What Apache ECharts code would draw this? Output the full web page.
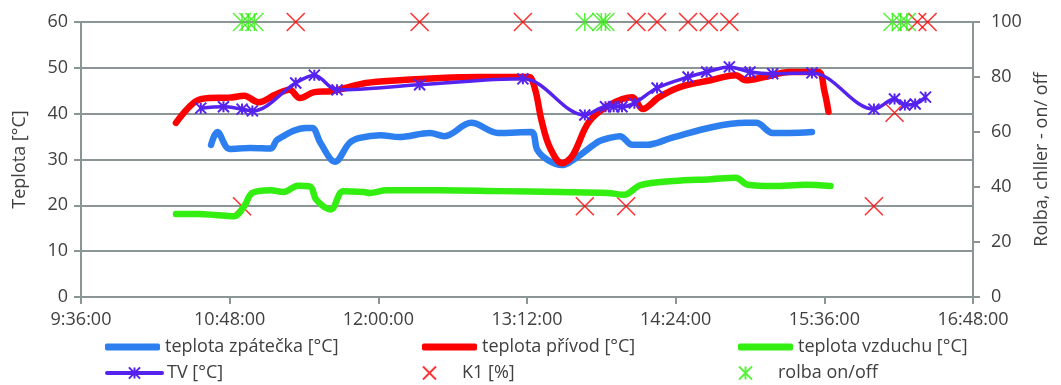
<!DOCTYPE html>
<html><head><meta charset="utf-8">
<script src="https://cdn.jsdelivr.net/npm/echarts@6/dist/echarts.min.js"></script>
<style>html,body{margin:0;padding:0;background:#fff}#c{width:1061px;height:385px}</style>
</head><body><div id="c"></div>
<script>
// x-axis ticks (time of day)
const xTickMin = '9:36', xTickMax = '16:48', xTickStepMin = 72;

const zpatTimes = ['10:39','10:42','10:48','10:58','11:08','11:11','11:25','11:28','11:32','11:39','11:46','11:51','12:01','12:10','12:25','12:32','12:45','12:58','13:14','13:17','13:22','13:29','13:33','13:39','13:47','13:52','13:57','14:03','14:10','14:22','14:42','14:58','15:03','15:11','15:19','15:30'];
const zpatValues = [33.2,36.0,32.3,32.5,32.4,34.3,36.9,36.9,33.6,29.5,33.6,34.7,35.3,34.9,35.8,35.1,38.0,35.8,36.0,32.1,29.9,28.8,29.5,31.4,34.0,34.7,35.1,33.2,33.2,34.7,37.1,38.0,38.0,35.8,35.8,36.0];

const privTimes = ['10:22','10:27','10:32','10:38','10:48','10:55','11:02','11:10','11:17','11:22','11:29','11:37','11:44','11:54','12:10','12:30','12:49','13:09','13:13','13:16','13:19','13:23','13:29','13:34','13:42','13:52','14:03','14:08','14:16','14:26','14:41','14:53','14:58','15:07','15:19','15:33','15:36','15:38'];
const privValues = [38.0,40.8,42.8,43.4,43.5,43.9,42.5,44.1,45.2,43.4,44.7,44.9,45.6,46.7,47.3,47.8,48.0,48.0,48.0,45.2,38.6,32.7,29.2,30.8,38.2,41.9,43.6,41.0,43.6,45.8,47.3,48.4,47.3,48.0,49.1,49.1,45.0,40.4];

const vzduchTimes = ['10:22','10:33','10:41','10:50','10:55','10:59','11:08','11:14','11:21','11:27','11:30','11:37','11:43','11:53','11:56','12:04','12:30','12:59','13:28','13:51','13:59','14:07','14:23','14:41','14:53','14:59','15:11','15:27','15:39'];
const vzduchValues = [18.1,18.1,17.9,17.6,19.8,22.7,23.3,22.9,24.3,24.1,21.2,19.1,23.1,22.9,22.7,23.3,23.3,23.1,22.9,22.7,22.3,24.4,25.3,25.7,26.0,24.5,24.2,24.5,24.2];

const tvTimes = ['10:34','10:45','10:54','10:59','11:20','11:29','11:40','12:20','13:10','13:40','13:50','13:54','13:58','14:04','14:15','14:30','14:39','14:50','15:00','15:11','15:30','16:00','16:10','16:15','16:20','16:25'];
const tvValues = [41.2,41.5,41.0,40.6,46.7,48.4,45.2,46.3,47.6,39.7,41.5,41.5,41.5,42.3,45.6,48.0,49.1,50.2,49.1,48.7,48.9,41.0,43.2,41.9,42.1,43.6];

const k1Times = ['10:54','11:20','12:20','13:10','13:40','14:00','14:05','14:15','14:30','14:40','14:50','16:00','16:10','16:21','16:26'];
const k1Values = [33,100,100,100,33,33,100,100,100,100,100,33,67,100,100];

const rolbaTimes = ['10:54','10:57','11:00','13:40','13:48','13:50','16:09','16:13','16:16'];
const rolbaValues = [100,100,100,100,100,100,100,100,100];

const names = ['teplota zpátečka [°C]','teplota přívod [°C]','teplota vzduchu [°C]','TV [°C]','K1 [%]','rolba on/off'];

function toMin(s){const p=s.split(':').map(Number);return p[0]*60+p[1];}
function pairs(t,v){return t.map((s,i)=>[toMin(s),v[i]]);}
function fmt(m){const h=Math.floor(m/60),mm=Math.round(m%60);return h+':'+String(mm).padStart(2,'0')+':00';}

const FONT = 'Open Sans';
const TXT = '#404040';
const AX = '#8c9595';
const XSYM = 'path://M0,0L10,10M10,0L0,10';
const STAR = 'path://M0,0L10,10M10,0L0,10M5,0L5,10';

const chart = echarts.init(document.getElementById('c'));
const legendBase = {orient:'horizontal', padding:0, itemWidth:55, itemHeight:14, textStyle:{fontFamily:FONT,fontSize:18,color:TXT}, selectedMode:false};
function lg(left, top, name, extra){return Object.assign({}, legendBase, {left:left, top:top, data:[name]}, extra||{});}
chart.setOption({
  animation:false,
  grid:{left:81,right:88,top:22,bottom:88},
  xAxis:{type:'value',min:toMin(xTickMin),max:toMin(xTickMax),interval:xTickStepMin,
    axisLine:{lineStyle:{color:AX,width:2}},
    axisTick:{show:true,length:7,lineStyle:{color:AX,width:2}},
    splitLine:{show:false},
    axisLabel:{formatter:fmt,fontFamily:FONT,fontSize:18,color:TXT,margin:14}},
  yAxis:[
    {type:'value',min:0,max:60,interval:10,position:'left',
     name:'Teplota [°C]',nameLocation:'middle',nameGap:52,nameRotate:90,
     nameTextStyle:{fontFamily:FONT,fontSize:18,color:TXT},
     axisLine:{show:true,lineStyle:{color:AX,width:2}},
     axisTick:{show:true,length:7,lineStyle:{color:AX,width:2}},
     splitLine:{show:true,lineStyle:{color:AX,width:2}},
     axisLabel:{fontFamily:FONT,fontSize:18,color:TXT,margin:13}},
    {type:'value',min:0,max:100,interval:20,position:'right',
     name:'Rolba, chller - on/ off',nameLocation:'middle',nameGap:56,nameRotate:90,
     nameTextStyle:{fontFamily:FONT,fontSize:18,color:TXT},
     axisLine:{show:true,lineStyle:{color:AX,width:2}},
     axisTick:{show:true,length:7,lineStyle:{color:AX,width:2}},
     splitLine:{show:false},
     axisLabel:{fontFamily:FONT,fontSize:18,color:TXT,margin:18}}
  ],
  legend:[
    lg(105,338,names[0],{icon:'roundRect',itemHeight:7}),
    lg(422,338,names[1],{icon:'roundRect',itemHeight:7}),
    lg(738,338,names[2],{icon:'roundRect',itemHeight:7}),
    lg(105,364,names[3],{lineStyle:{width:4}}),
    lg(422,364,names[4],{itemHeight:13}),
    lg(738,364,names[5],{itemHeight:13})
  ],
  series:[
    {name:names[0],type:'line',data:pairs(zpatTimes,zpatValues),smooth:0.35,showSymbol:false,symbol:'none',
     lineStyle:{color:'#2d7ff0',width:6.5,cap:'round',join:'round'},itemStyle:{color:'#2d7ff0'}},
    {name:names[1],type:'line',data:pairs(privTimes,privValues),smooth:0.35,showSymbol:false,symbol:'none',
     lineStyle:{color:'#ff0000',width:6.5,cap:'round',join:'round'},itemStyle:{color:'#ff0000'}},
    {name:names[2],type:'line',data:pairs(vzduchTimes,vzduchValues),smooth:0.35,showSymbol:false,symbol:'none',
     lineStyle:{color:'#33ee11',width:6.5,cap:'round',join:'round'},itemStyle:{color:'#33ee11'}},
    {name:names[3],type:'line',data:pairs(tvTimes,tvValues),smooth:0.35,showSymbol:true,showAllSymbol:true,
     symbol:STAR,symbolSize:11,
     lineStyle:{color:'#5522ee',width:3.5,cap:'round',join:'round'},
     itemStyle:{color:'rgba(0,0,0,0)',borderColor:'#5522ee',borderWidth:2}},
    {name:names[4],type:'scatter',yAxisIndex:1,data:pairs(k1Times,k1Values),clip:false,
     symbol:XSYM,symbolSize:18,
     itemStyle:{color:'rgba(0,0,0,0)',borderColor:'#ff0000',borderWidth:1.6}},
    {name:names[5],type:'scatter',yAxisIndex:1,data:pairs(rolbaTimes,rolbaValues),clip:false,
     symbol:STAR,symbolSize:18,
     itemStyle:{color:'rgba(0,0,0,0)',borderColor:'#33ee11',borderWidth:1.6}}
  ]
});
</script></body></html>
